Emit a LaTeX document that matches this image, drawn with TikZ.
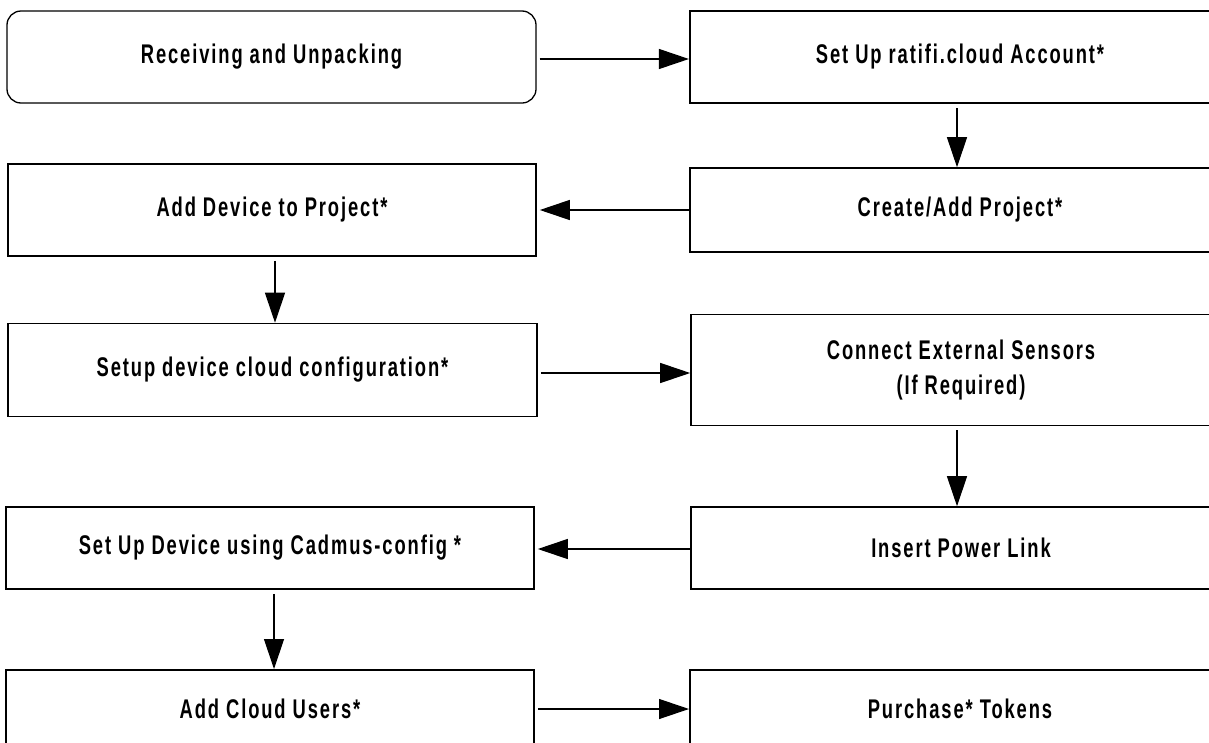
\documentclass[tikz,border=0pt]{standalone}
\usepackage{fontspec}
\setmainfont{Liberation Sans}[BoldFeatures={FakeStretch=0.68,LetterSpace=7}]
\usetikzlibrary{arrows.meta}
\tikzset{
  stepbox/.style={draw=black, line width=1.6pt, fill=white, inner sep=0pt, align=center,
    font=\fontsize{27}{35}\selectfont\bfseries},
  flow/.style={line width=1.2pt, -{Triangle[length=30pt,width=20pt]}},
}
\begin{document}
\begin{tikzpicture}[x=1pt,y=-1pt]
\useasboundingbox (0,0) rectangle (1209,742);
\begin{scope}
\clip (0,0) rectangle (1209,742);
\node[stepbox, line width=1.3pt, rounded corners=14pt, minimum width=529pt, minimum height=92pt] (rec) at (271.5,57) {Receiving and Unpacking};
\node[stepbox, line width=2.2pt, minimum width=540pt, minimum height=92pt] (acct) at (960,57) {Set Up ratifi.cloud Account*};
\node[stepbox, minimum width=540pt, minimum height=84pt] (proj) at (960,210) {Create/Add Project*};
\node[stepbox, minimum width=528pt, minimum height=92pt] (dev) at (272,210) {Add Device to Project*};
\node[stepbox, minimum width=529pt, minimum height=93pt] (cfg) at (272.5,370) {Setup device cloud configuration*};
\node[stepbox, minimum width=540pt, minimum height=111pt] (sens) at (961,370) {Connect External Sensors\\(If Required)};
\node[stepbox, minimum width=540pt, minimum height=82pt] (power) at (961,548) {Insert Power Link};
\node[stepbox, minimum width=528pt, minimum height=82pt] (cad) at (270,548) {Set Up Device using Cadmus-config *};
\node[stepbox, line width=2pt, minimum width=528pt, minimum height=78pt] (users) at (270,709) {Add Cloud Users*};
\node[stepbox, line width=2pt, minimum width=540pt, minimum height=78pt] (tok) at (960,709) {Purchase* Tokens};

\draw[flow, shorten <=3pt] (rec.east |- 0,59) -- (acct.west |- 0,59);
\draw[flow, shorten <=4pt] (acct.south -| 957,0) -- (proj.north -| 957,0);
\draw[flow, shorten >=3pt] (proj.west) -- (dev.east);
\draw[flow, shorten <=4pt] (dev.south -| 275,0) -- (cfg.north -| 275,0);
\draw[flow, shorten <=3pt] (cfg.east |- 0,373) -- (sens.west |- 0,373);
\draw[flow, shorten <=4pt] (sens.south -| 957,0) -- (power.north -| 957,0);
\draw[flow, shorten >=3pt] (power.west |- 0,549) -- (cad.east |- 0,549);
\draw[flow, shorten <=4pt] (cad.south -| 274,0) -- (users.north -| 274,0);
\draw[flow, shorten <=3pt] (users.east) -- (tok.west);
\end{scope}
\end{tikzpicture}
\end{document}
